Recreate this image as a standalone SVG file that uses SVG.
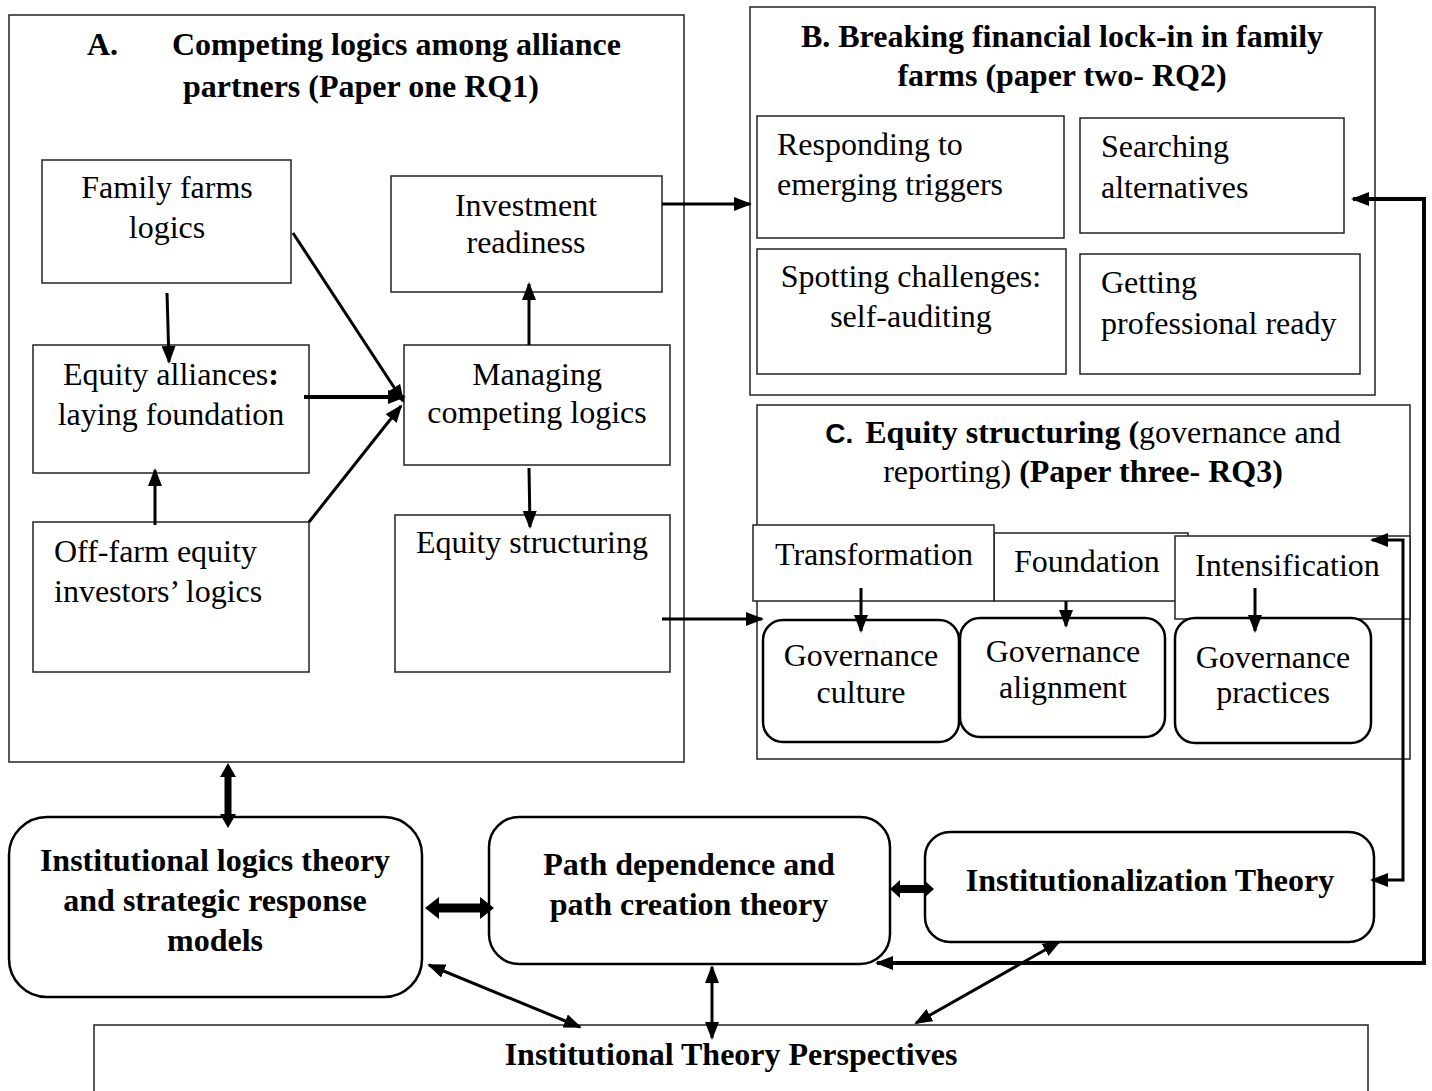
<svg xmlns="http://www.w3.org/2000/svg" width="1432" height="1091" viewBox="0 0 1432 1091">
<defs>
<style>
.t{font-family:"Liberation Serif","Times New Roman",serif;font-size:32px;fill:#000}
.b{font-weight:bold}
.m{text-anchor:middle}
.bx{fill:#fff;stroke:#222;stroke-width:1.5}
.rb{fill:#fff;stroke:#000;stroke-width:2.5}
.c{fill:none;stroke:#000;stroke-width:3}
.ct{fill:none;stroke:#000;stroke-width:4}
.fl{fill:#000;stroke:none}
</style>
<marker id="ah" markerUnits="userSpaceOnUse" markerWidth="18" markerHeight="14" refX="16" refY="7" orient="auto-start-reverse" viewBox="0 0 18 14">
<path d="M0,0 L18,7 L0,14 z" fill="#000"/>
</marker>
</defs>
<rect width="1432" height="1091" fill="#fff"/>

<g id="boxA">
<rect class="bx" x="9" y="15" width="675" height="747"/>
<text class="t b" x="87" y="55">A.</text>
<text class="t b" x="172" y="55">Competing logics among alliance</text>
<text class="t b" x="183" y="97">partners (Paper one RQ1)</text>
</g>

<g id="familyFarms">
<rect class="bx" x="42" y="160" width="249" height="123"/>
<text class="t m" x="167" y="198">Family farms</text>
<text class="t m" x="167" y="238">logics</text>
</g>

<g id="investmentReadiness">
<rect class="bx" x="391" y="176" width="271" height="116"/>
<text class="t m" x="526" y="216">Investment</text>
<text class="t m" x="526" y="253">readiness</text>
</g>

<g id="equityAlliances">
<rect class="bx" x="33" y="345" width="276" height="128"/>
<text class="t m" x="171" y="385">Equity alliances<tspan class="b">:</tspan></text>
<text class="t m" x="171" y="425">laying foundation</text>
</g>

<g id="managingLogics">
<rect class="bx" x="404" y="345" width="266" height="120"/>
<text class="t m" x="537" y="385">Managing</text>
<text class="t m" x="537" y="423">competing logics</text>
</g>

<g id="offFarm">
<rect class="bx" x="33" y="522" width="276" height="150"/>
<text class="t" x="54" y="562">Off-farm equity</text>
<text class="t" x="54" y="602">investors’ logics</text>
</g>

<g id="equityStructuringA">
<rect class="bx" x="395" y="515" width="275" height="157"/>
<text class="t m" x="532" y="553">Equity structuring</text>
</g>

<g id="boxB">
<rect class="bx" x="750" y="7" width="625" height="388"/>
<text class="t b m" x="1062" y="47">B. Breaking financial lock-in in family</text>
<text class="t b m" x="1062" y="86">farms (paper two- RQ2)</text>
</g>

<g id="responding">
<rect class="bx" x="757" y="116" width="307" height="122"/>
<text class="t" x="777" y="155">Responding to</text>
<text class="t" x="777" y="195">emerging triggers</text>
</g>

<g id="searching">
<rect class="bx" x="1080" y="118" width="264" height="115"/>
<text class="t" x="1101" y="157">Searching</text>
<text class="t" x="1101" y="198">alternatives</text>
</g>

<g id="spotting">
<rect class="bx" x="757" y="249" width="309" height="125"/>
<text class="t m" x="911" y="287">Spotting challenges:</text>
<text class="t m" x="911" y="327">self-auditing</text>
</g>

<g id="getting">
<rect class="bx" x="1080" y="254" width="280" height="120"/>
<text class="t" x="1101" y="293">Getting</text>
<text class="t" x="1101" y="334">professional ready</text>
</g>

<g id="boxC">
<rect class="bx" x="757" y="405" width="653" height="354"/>
<text class="t m" x="1083" y="443"><tspan class="b" style="font-family:'Liberation Sans',Arial,sans-serif;font-size:28px">C.</tspan><tspan class="b" dx="12">Equity structuring (</tspan>governance and</text>
<text class="t m" x="1083" y="482">reporting) <tspan class="b">(Paper three- RQ3)</tspan></text>
</g>

<g id="foundation">
<rect class="bx" x="994" y="533" width="194" height="68"/>
<text class="t" x="1014" y="572">Foundation</text>
</g>

<g id="transformation">
<rect class="bx" x="753" y="525" width="241" height="76"/>
<text class="t" x="775" y="565">Transformation</text>
</g>

<g id="intensification">
<rect class="bx" x="1175" y="536" width="235" height="83"/>
<text class="t" x="1195" y="576">Intensification</text>
</g>

<g id="govCulture">
<rect class="rb" x="763" y="620" width="196" height="122" rx="20"/>
<text class="t m" x="861" y="666">Governance</text>
<text class="t m" x="861" y="703">culture</text>
</g>

<g id="govAlignment">
<rect class="rb" x="960" y="618" width="205" height="119" rx="20"/>
<text class="t m" x="1063" y="662">Governance</text>
<text class="t m" x="1063" y="698">alignment</text>
</g>

<g id="govPractices">
<rect class="rb" x="1175" y="618" width="196" height="125" rx="20"/>
<text class="t m" x="1273" y="668">Governance</text>
<text class="t m" x="1273" y="703">practices</text>
</g>

<g id="instLogics">
<rect class="rb" x="9" y="817" width="413" height="180" rx="38"/>
<text class="t b m" x="215" y="871">Institutional logics theory</text>
<text class="t b m" x="215" y="911">and strategic response</text>
<text class="t b m" x="215" y="951">models</text>
</g>

<g id="pathDependence">
<rect class="rb" x="489" y="817" width="401" height="147" rx="30"/>
<text class="t b m" x="689" y="875">Path dependence and</text>
<text class="t b m" x="689" y="915">path creation theory</text>
</g>

<g id="institutionalization">
<rect class="rb" x="925" y="832" width="449" height="110" rx="25"/>
<text class="t b m" x="1150" y="891">Institutionalization Theory</text>
</g>

<g id="perspectives">
<rect class="bx" x="94" y="1025" width="1274" height="80"/>
<text class="t b m" x="731" y="1065">Institutional Theory Perspectives</text>
</g>

<g id="connectors">
<line class="c" x1="167" y1="293" x2="169" y2="362" marker-end="url(#ah)"/>
<line class="c" x1="293" y1="233" x2="403" y2="401" marker-end="url(#ah)"/>
<line class="ct" x1="304" y1="397" x2="404" y2="397" marker-end="url(#ah)"/>
<line class="c" x1="309" y1="522" x2="401" y2="406" marker-end="url(#ah)"/>
<line class="c" x1="155" y1="525" x2="155" y2="470" marker-end="url(#ah)"/>
<line class="c" x1="529" y1="345" x2="529" y2="284" marker-end="url(#ah)"/>
<line class="c" x1="529" y1="468" x2="530" y2="527" marker-end="url(#ah)"/>
<line class="c" x1="662" y1="204" x2="750" y2="204" marker-end="url(#ah)"/>
<line class="c" x1="662" y1="619" x2="762" y2="619" marker-end="url(#ah)"/>
<line class="c" x1="861" y1="588" x2="861" y2="631" marker-end="url(#ah)"/>
<line class="c" x1="1066" y1="601" x2="1066" y2="626" marker-end="url(#ah)"/>
<line class="c" x1="1255" y1="588" x2="1255" y2="631" marker-end="url(#ah)"/>
<polyline class="c" points="1372,540 1403,540 1403,880 1372,880" marker-start="url(#ah)" marker-end="url(#ah)"/>
<polyline class="ct" points="1353,199 1424,199 1424,963 877,963" marker-start="url(#ah)" marker-end="url(#ah)"/>
<polygon class="fl" points="228,763 236,777 231.5,777 231.5,814 236,814 228,828 220,814 224.5,814 224.5,777 220,777"/>
<polygon class="fl" points="425,908 439,897 439,903.5 480,903.5 480,897 494,908 480,919 480,912.5 439,912.5 439,919"/>
<polygon class="fl" points="890,889 900,880 900,885 924,885 924,880 934,889 924,898 924,893 900,893 900,898"/>
<line class="c" x1="429" y1="965" x2="580" y2="1027" marker-start="url(#ah)" marker-end="url(#ah)"/>
<line class="c" x1="712" y1="967" x2="712" y2="1038" marker-start="url(#ah)" marker-end="url(#ah)"/>
<line class="c" x1="1059" y1="942" x2="916" y2="1023" marker-start="url(#ah)" marker-end="url(#ah)"/>
</g>
</svg>
